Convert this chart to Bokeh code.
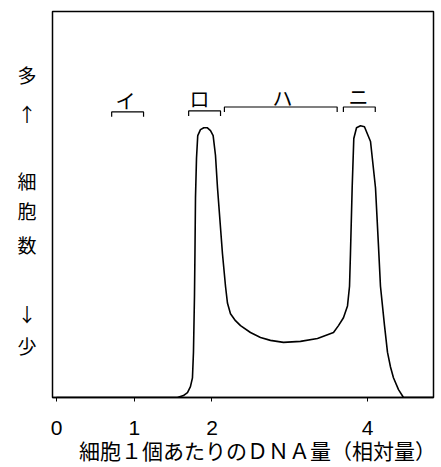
from bokeh.plotting import figure
from bokeh.models import Range1d, FixedTicker, Label, LinearAxis
from bokeh.embed import file_html
from bokeh.resources import INLINE

# DNA amount per cell (relative) vs. number of cells (arbitrary units)
dna = [0.0, 1.556, 1.633, 1.685, 1.723, 1.749, 1.762, 1.775, 1.781, 1.788, 1.801,
       1.817, 1.852, 1.895, 1.938, 1.981, 2.015, 2.045, 2.071, 2.135, 2.174, 2.199,
       2.238, 2.302, 2.367, 2.495, 2.624, 2.752, 2.920, 3.138, 3.357, 3.563, 3.627,
       3.691, 3.743, 3.769, 3.781, 3.803, 3.824, 3.859, 3.910, 3.961, 4.039, 4.103,
       4.142, 4.167, 4.219, 4.257, 4.296, 4.334, 4.399, 4.463, 4.849]
cells = [0, 0, 2, 5, 11, 20, 46, 103, 146, 203, 243,
         266, 272, 274, 274, 271, 266, 246, 213, 146, 113, 96,
         85, 78, 73, 66, 61, 58, 56, 57, 60, 66, 73,
         81, 93, 113, 146, 213, 263, 274, 276, 275, 260, 213,
         153, 113, 73, 46, 31, 20, 8, 0, 0]

tick_values = [0, 1, 2, 4]

bracket_labels = ["イ", "ロ", "ハ", "ニ"]
bracket_x0 = [0.71, 1.70, 2.16, 3.69]
bracket_x1 = [1.12, 2.11, 3.61, 4.10]
bracket_y = [290, 291, 295, 295]
label_x = [0.887, 1.839, 2.907, 3.884]
label_y = [302, 303.5, 305, 305.5]

side_chars = ["多", "↑", "細", "胞", "数", "↓", "少"]
side_y = [328, 288, 220, 190, 155, 85, 53]

x_title = "細胞１個あたりのＤＮＡ量（相対量）"
x_title_pos = 2.585

p = figure(width=441, height=467, output_backend="svg", toolbar_location=None,
           x_range=Range1d(-0.051, 4.849), y_range=Range1d(0, 392))
p.min_border_left = 52
p.min_border_right = 8
p.min_border_top = 11
p.min_border_bottom = 64
p.background_fill_color = "white"
p.border_fill_color = "white"
p.outline_line_color = "black"
p.outline_line_width = 1.5
p.xgrid.visible = False
p.ygrid.visible = False

xa = p.xaxis[0]
xa.ticker = FixedTicker(ticks=tick_values)
xa.minor_tick_line_color = None
xa.major_tick_in = 0
xa.major_tick_out = 4
xa.major_tick_line_color = "black"
xa.axis_line_color = "black"
xa.axis_line_width = 1.5
xa.major_label_text_font = "Liberation Sans"
xa.major_label_text_font_size = "21px"
xa.major_label_text_color = "black"
xa.major_label_standoff = 19

ya = p.yaxis[0]
ya.ticker = FixedTicker(ticks=side_y)
ya.major_label_overrides = {y: c for y, c in zip(side_y, side_chars)}
ya.axis_line_color = None
ya.major_tick_line_color = None
ya.minor_tick_line_color = None
ya.major_label_text_font = "Noto Sans CJK JP"
ya.major_label_text_font_size = "19px"
ya.major_label_text_color = "black"
ya.major_label_standoff = 10

title_axis = LinearAxis(ticker=FixedTicker(ticks=[x_title_pos]),
                        major_label_overrides={x_title_pos: x_title},
                        axis_line_color=None, major_tick_line_color=None,
                        minor_tick_line_color=None,
                        major_label_text_font="Noto Sans CJK JP",
                        major_label_text_font_size="21px",
                        major_label_text_color="black",
                        major_label_standoff=-9)
p.add_layout(title_axis, "below")

p.line(dna, cells, line_color="black", line_width=1.6)

xs = [[a, a, b, b] for a, b in zip(bracket_x0, bracket_x1)]
ys = [[y - 5, y, y, y - 5] for y in bracket_y]
p.multi_line(xs, ys, line_color="black", line_width=1.2)

for t, x, y in zip(bracket_labels, label_x, label_y):
    p.add_layout(Label(x=x, y=y, text=t, text_align="center", text_baseline="middle",
                       text_font="Noto Sans CJK JP", text_font_size="20px",
                       text_color="black"))

open("out.html", "w").write(file_html(p, INLINE))
